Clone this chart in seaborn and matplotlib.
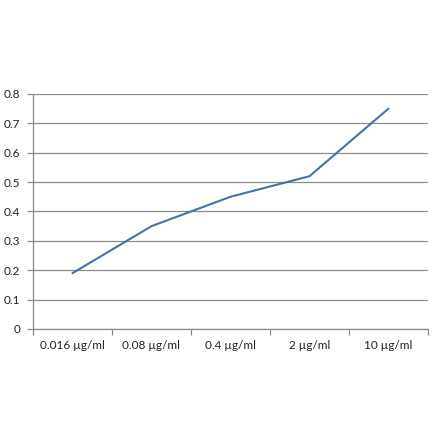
import matplotlib
matplotlib.use('Agg')
import matplotlib.pyplot as plt
import pandas as pd
import seaborn as sns
from matplotlib.ticker import FixedLocator, FuncFormatter

# data
concentrations = ['0.016 µg/ml', '0.08 µg/ml', '0.4 µg/ml', '2 µg/ml', '10 µg/ml']
values = [0.19, 0.35, 0.45, 0.52, 0.75]
yticks = [0, 0.1, 0.2, 0.3, 0.4, 0.5, 0.6, 0.7, 0.8]

df = pd.DataFrame({'conc': concentrations, 'value': values})

sns.set_style('white')
plt.rcParams['font.family'] = ['Lato', 'DejaVu Sans']

fig = plt.figure(figsize=(4.4, 4.41), dpi=100)
ax = fig.add_axes([0.075, 0.254, 0.8977, 0.533])

sns.lineplot(data=df, x='conc', y='value', ax=ax, color='#4672a8', linewidth=1.5, sort=False)

grid_col = '#8c8c8c'
ax.set_ylim(0, 0.8)
ax.set_xlim(-0.5, len(concentrations) - 0.5)
ax.set_yticks(yticks)
ax.yaxis.set_major_formatter(FuncFormatter(lambda v, p: '0' if v == 0 else f'{v:.1f}'))
ax.yaxis.grid(True, color=grid_col, linewidth=0.9)
ax.set_axisbelow(True)

ax.set_xticks(range(len(concentrations)))
ax.set_xticklabels(concentrations)
ax.xaxis.set_minor_locator(FixedLocator([i - 0.5 for i in range(len(concentrations) + 1)]))
ax.tick_params(axis='x', which='major', length=0, pad=8, labelsize=8.5, labelcolor='#222222')
ax.tick_params(axis='x', which='minor', length=4, color=grid_col, width=0.9, direction='out')
ax.tick_params(axis='y', length=4, color=grid_col, width=0.9, direction='out', labelsize=8.5,
               labelcolor='#222222', pad=5)
ax.tick_params(bottom=True, left=True, which='both')

for s in ['top', 'right']:
    ax.spines[s].set_visible(False)
for s in ['left', 'bottom']:
    ax.spines[s].set_color(grid_col)
    ax.spines[s].set_linewidth(0.9)

ax.set_xlabel('')
ax.set_ylabel('')

fig.savefig('out.png', dpi=100)
